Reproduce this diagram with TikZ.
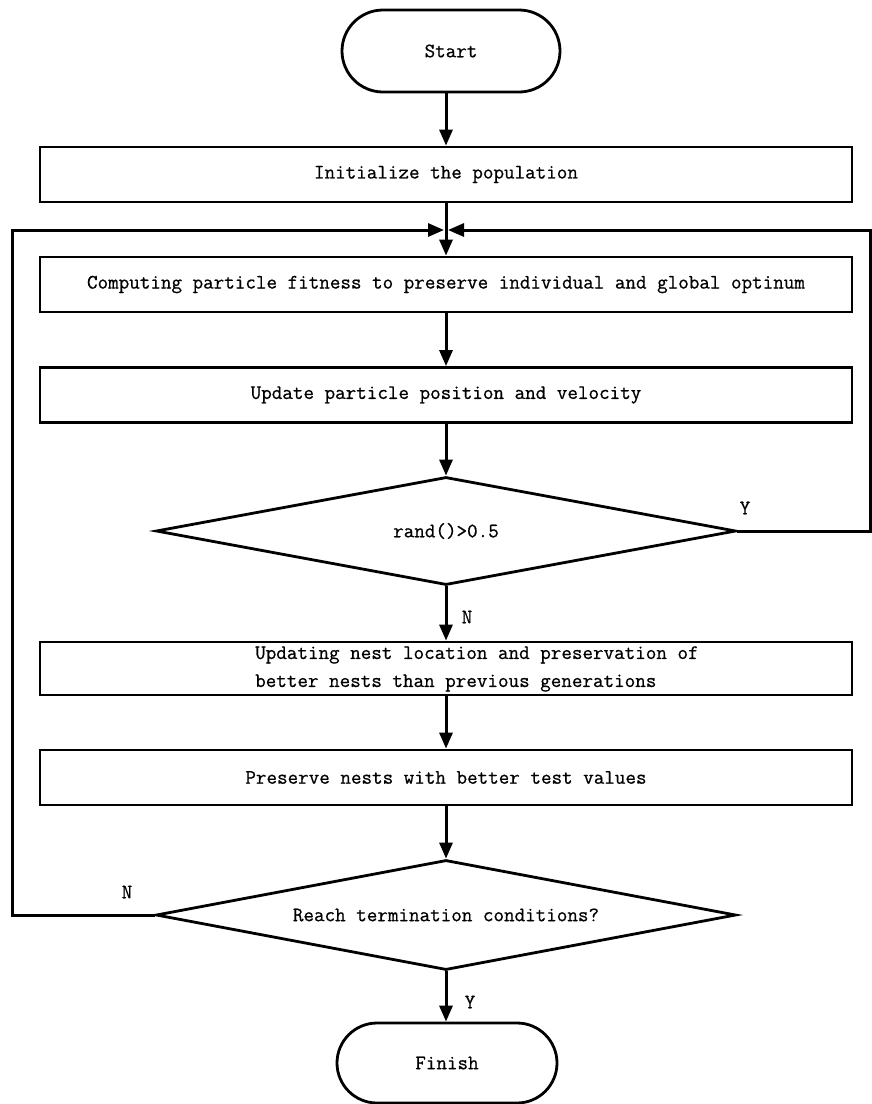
\documentclass[tikz,border=0pt]{standalone}
\usepackage{fontspec}
\newfontfamily\diafont[FakeBold=0.7]{Latin Modern Mono}
\usetikzlibrary{arrows.meta,shapes.geometric,shapes.misc}
\begin{document}
\begin{tikzpicture}[x=1pt,y=-1pt,
  every node/.style={font=\fontsize{20.5}{28}\selectfont\diafont, inner sep=0pt},
  box/.style={draw, line width=2.8pt, minimum width=812pt, minimum height=55pt},
  term/.style={draw, line width=2.8pt, rounded rectangle},
  dia/.style={draw, line width=2.8pt, diamond, aspect=5, minimum width=580pt, minimum height=108pt},
  arr/.style={line width=3pt, -{Triangle[length=16pt,width=13pt]}}]
\useasboundingbox (0,0) rectangle (872,1104);
\node[term, minimum width=218pt, minimum height=82pt] (start) at (451,51) {Start};
\node[box] (init) at (446,174.5) {Initialize the population};
\node[box] (fit) at (446,284.5) {Computing particle fitness to preserve individual and global optinum};
\node[box] (upd) at (446,395) {Update particle position and velocity};
\node[dia] (rand) at (446,531) {rand()>0.5};
\node[box, minimum height=53pt] (nest) at (446,668.5) {};
\node[anchor=west, align=left] (nesttxt) at (255,669) {Updating nest location and preservation of\\better nests than previous generations};
\node[box] (pres) at (446,777.5) {Preserve nests with better test values};
\node[dia, minimum height=110pt] (reach) at (446,915) {Reach termination conditions?};
\node[term, minimum width=220pt, minimum height=80pt] (fin) at (447,1063) {Finish};
% labels
\node (y1) at (745,508) {Y};
\node (n1) at (467,617) {N};
\node (n2) at (127,892) {N};
\node (y2) at (470,1002) {Y};
% coordinates
\coordinate (rtop) at (870,230);
\coordinate (ltop) at (12,230);
\coordinate (mergeR) at (448,230);
\coordinate (mergeL) at (444,230);
% connectors
\draw[arr] (start.south -| init.north) -- (init.north);
\draw[arr] (init.south) -- (fit.north);
\draw[arr] (fit.south) -- (upd.north);
\draw[arr] (upd.south) -- (rand.north);
\draw[arr] (rand.south) -- (nest.north);
\draw[arr] (nest.south) -- (pres.north);
\draw[arr] (pres.south) -- (reach.north);
\draw[arr] (reach.south) -- (reach.south |- fin.north);
\draw[arr] (rand.east) -| (rtop) -- (mergeR);
\draw[arr] (reach.west) -| (ltop) -- (mergeL);
\end{tikzpicture}
\end{document}
